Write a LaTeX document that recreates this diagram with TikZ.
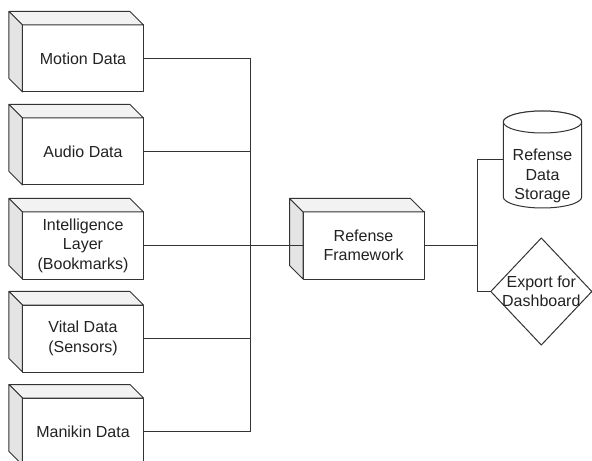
\documentclass[tikz,border=0pt]{standalone}
\usepackage{fontspec}
\setmainfont{Liberation Sans}
\usetikzlibrary{shapes.geometric,calc}

\definecolor{strokegray}{RGB}{51,51,51}
\definecolor{textgray}{RGB}{34,34,34}
\definecolor{cubetop}{RGB}{242,242,242}
\definecolor{cubeside}{RGB}{228,228,228}

% depth of the 3D boxes and size of their front face
\newcommand\cubedepth{13.5}
\newcommand\cubefw{121}
\newcommand\cubefh{67}

% top and side faces of a 3D box, drawn from its front-face node
\newcommand\cubefaces[1]{%
  \filldraw[cubeline,fill=cubetop] (#1.north west) -- ++(-\cubedepth,-\cubedepth)
    -- ++(\cubefw,0) -- (#1.north east) -- cycle;
  \filldraw[cubeline,fill=cubeside] (#1.north west) -- ++(-\cubedepth,-\cubedepth)
    -- ++(0,\cubefh) -- (#1.south west) -- cycle;
}

\begin{document}
\begin{tikzpicture}[x=1bp,y=-1bp,
  every node/.style={font=\fontsize{16bp}{19.5bp}\selectfont, text=textgray},
  cubeline/.style={draw=strokegray, line width=1bp, line join=round},
  cubefront/.style={cubeline, fill=white, rectangle, minimum width=\cubefw bp,
    minimum height=\cubefh bp, inner sep=0pt, outer sep=0pt, align=center},
  wire/.style={draw=strokegray, line width=1bp},
  label/.style={align=center, inner sep=0pt}]

\useasboundingbox (0,0) rectangle (592,461);
\clip (0,0) rectangle (592,461);

% data sources
\node[cubefront] (motion)  at (83,58.5)  {Motion Data};
\node[cubefront] (audio)   at (83,151.5) {Audio Data};
\node[cubefront] (intel)   at (83,245.5) {Intelligence\\Layer\\(Bookmarks)};
\node[cubefront] (vital)   at (83,338.5) {Vital Data\\(Sensors)};
\node[cubefront] (manikin) at (83,431.5) {Manikin Data};
\cubefaces{motion}
\cubefaces{audio}
\cubefaces{intel}
\cubefaces{vital}
\cubefaces{manikin}

% central framework
\node[cubefront] (fw) at (363.5,245.5) {Refense\\Framework};
\cubefaces{fw}

% storage cylinder
\node[rectangle, minimum width=78.4bp, minimum height=97bp, inner sep=0pt, outer sep=0pt]
  (store) at (542.5,159.5) {};
\draw[cubeline, fill=white]
  ($(store.north west)+(0,11)$) -- ($(store.south west)+(0,-11)$)
  arc[start angle=180, end angle=0, x radius=39.2, y radius=11]
  -- ($(store.north east)+(0,11)$)
  arc[start angle=360, end angle=180, x radius=39.2, y radius=11] -- cycle;
\draw[cubeline, fill=white] ($(store.north)+(0,11)$) ellipse[x radius=39.2, y radius=11];
\node[label] (storetext) at (542.5,176) {Refense\\Data\\Storage};

% export decision
\node[diamond, cubeline, fill=white, minimum width=101bp, minimum height=107bp,
  inner sep=0pt, outer sep=0pt] (export) at (541.3,291.5) {};
\node[label] (exporttext) at (541.3,291.5) {Export for\\Dashboard};

% connectors
\coordinate (bus) at (250.5,245.5);
\coordinate (split) at (477.5,245.5);
\draw[wire] (motion.east) -| (bus);
\draw[wire] (audio.east) -| (bus);
\draw[wire] (vital.east) -| (bus);
\draw[wire] (manikin.east) -| (bus);
\draw[wire] (intel.east) -- (fw.west);
\draw[wire] (fw.east) -- (split);
\draw[wire] (split) |- (store.west);
\draw[wire] (split) |- (export.west);
\end{tikzpicture}
\end{document}
